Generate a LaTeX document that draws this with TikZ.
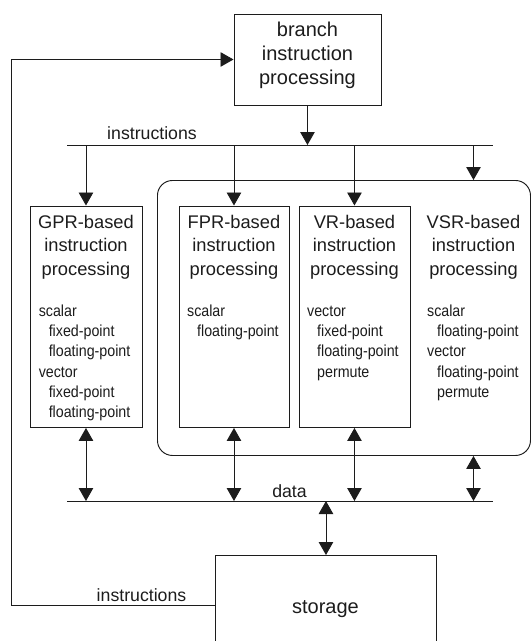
\documentclass[tikz,border=0pt]{standalone}
\usepackage{fontspec}
\setmainfont{Liberation Sans}
\newfontfamily\listfont[FakeStretch=0.89]{Liberation Sans}
\usetikzlibrary{arrows.meta}
\definecolor{ink}{HTML}{1C1C1C}
\begin{document}
\begin{tikzpicture}[x=1pt,y=-1pt,line width=0.95pt,draw=ink,text=ink,
  box/.style={draw,rectangle,inner sep=0pt,anchor=north west},
  title/.style={font=\fontsize{18.3}{23.4}\selectfont,align=center,anchor=north,inner sep=0pt},
  bigtitle/.style={font=\fontsize{20}{24.2}\selectfont,align=center,anchor=north,inner sep=0pt},
  featlist/.style={font=\listfont\fontsize{16}{20.3}\selectfont,align=left,anchor=north west,inner sep=0pt},
  lbl/.style={font=\fontsize{17.7}{20}\selectfont,anchor=base,inner sep=0pt},
  tip/.style={-{Triangle[length=13pt,width=14.5pt]}},
  both/.style={{Triangle[length=13pt,width=14.5pt]}-{Triangle[length=13pt,width=14.5pt]}}]
\useasboundingbox (0,0) rectangle (531,641);
\clip (0,0) rectangle (531,641);

% branch unit
\node[box,minimum width=147,minimum height=91] (branch) at (233.5,13.5) {};
\node[bigtitle] (branchtxt) at (branch.north |- 0,21.5) {branch\\instruction\\processing};

% instruction and data buses
\coordinate (ibw) at (67,145);
\coordinate (ibe) at (493,145);
\coordinate (dbw) at (67,501);
\coordinate (dbe) at (493,501);
\draw (ibw) -- (ibe);
\draw (dbw) -- (dbe);
\node[lbl] (ilabel) at (152,139.5) {instructions};
\node[lbl] (dlabel) at (289.5,497) {data};

% rounded enclosure for FPR / VR / VSR units
\node[draw,rectangle,rounded corners=15pt,inner sep=0pt,anchor=north west,
      minimum width=373,minimum height=275] (group) at (157,180) {};

% processing units
\node[box,minimum width=112,minimum height=221.5] (gpr) at (29.5,205.5) {};
\node[box,minimum width=110,minimum height=221.5] (fpr) at (178.5,205.5) {};
\node[box,minimum width=111,minimum height=221.5] (vr)  at (298.5,205.5) {};

\node[title] (gprtxt) at (gpr.north |- 0,214.5) {GPR-based\\instruction\\processing};
\node[title] (fprtxt) at (fpr.north |- 0,214.5) {FPR-based\\instruction\\processing};
\node[title] (vrtxt)  at (vr.north |- 0,214.5)  {VR-based\\instruction\\processing};
\node[title] (vsr)    at (473.5,214.5)          {VSR-based\\instruction\\processing};

\node[featlist] (gprlist) at (38.3,304.3) {\vphantom{l}scalar\\\hspace*{10pt}fixed-point\\\hspace*{10pt}floating-point\\vector\\\hspace*{10pt}fixed-point\\\hspace*{10pt}floating-point};
\node[featlist] (fprlist) at (186.7,304.3) {\vphantom{l}scalar\\\hspace*{10pt}floating-point};
\node[featlist] (vrlist) at (306.7,304.3) {\vphantom{l}vector\\\hspace*{10pt}fixed-point\\\hspace*{10pt}floating-point\\\hspace*{10pt}permute};
\node[featlist] (vsrlist) at (426.7,304.3) {\vphantom{l}scalar\\\hspace*{10pt}floating-point\\vector\\\hspace*{10pt}floating-point\\\hspace*{10pt}permute};

% storage
\node[box,minimum width=221,minimum height=110] (storage) at (215,555) {};
\node[font=\fontsize{20}{24}\selectfont,anchor=base,inner sep=0pt] (storagetxt) at (325.5,613) {storage};
\node[lbl] (ilabel2) at (141.5,601) {instructions};

% instruction flow
\draw[tip] (branch.south) -- (branch.south |- ibw);
\draw[tip] (gpr.north |- ibw) -- (gpr.north);
\draw[tip] (fpr.north |- ibw) -- (fpr.north);
\draw[tip] (vr.north |- ibw) -- (vr.north);
\draw[tip] (vsr.north |- ibw) -- (vsr.north |- group.north);

% data flow
\draw[both] (gpr.south) -- (gpr.south |- dbw);
\draw[both] (fpr.south) -- (fpr.south |- dbw);
\draw[both] (vr.south) -- (vr.south |- dbw);
\draw[both] (vsr.north |- group.south) -- (vsr.north |- dbw);
\draw[both] (storage.north |- dbw) -- (storage.north);

% instruction fetch loop back to the branch unit
\coordinate (loop) at (11,605);
\draw[tip] (storage.north west |- loop) -- (loop) |- (branch.west);
\end{tikzpicture}
\end{document}
